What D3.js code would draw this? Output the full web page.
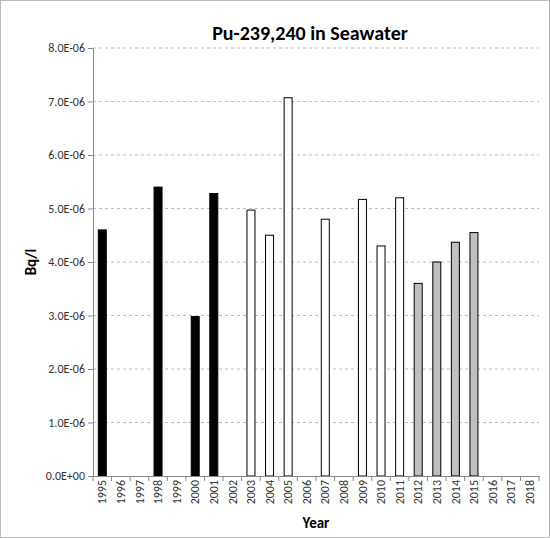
<!DOCTYPE html>
<html>
<head>
<meta charset="UTF-8">
<script src="https://d3js.org/d3.v7.min.js"></script>
<style>body{margin:0;background:#fff}text{font-family:Calibri,Carlito,Lato,sans-serif}</style>
</head>
<body>
<svg width="550" height="538"></svg>
<script>
var years = ["1995","1996","1997","1998","1999","2000","2001","2002","2003","2004","2005","2006","2007","2008","2009","2010","2011","2012","2013","2014","2015","2016","2017","2018"];
var values = [4.6e-6,null,null,5.4e-6,null,2.98e-6,5.28e-6,null,4.97e-6,4.5e-6,7.07e-6,null,4.8e-6,null,5.17e-6,4.3e-6,5.2e-6,3.6e-6,4.0e-6,4.37e-6,4.55e-6,null,null,null];
var fills = ["#000","#000","#000","#000","#000","#000","#000","#000","#fff","#fff","#fff","#fff","#fff","#fff","#fff","#fff","#fff","#bfbfbf","#bfbfbf","#bfbfbf","#bfbfbf","#bfbfbf","#bfbfbf","#bfbfbf"];
var yTicks = [0,1e-6,2e-6,3e-6,4e-6,5e-6,6e-6,7e-6,8e-6];

var svg = d3.select("svg");
svg.append("rect").attr("x",0.5).attr("y",0.5).attr("width",549).attr("height",537)
    .attr("fill","#fff").attr("stroke","#bbb");

var x = d3.scaleBand().domain(years).range([93,539]);
var y = d3.scaleLinear().domain([0,8e-6]).range([476,48]);

svg.append("g").selectAll("line").data(yTicks.slice(1)).enter().append("line")
    .attr("x1",93).attr("x2",539).attr("y1",d=>y(d)).attr("y2",d=>y(d))
    .attr("stroke","#bbb").attr("stroke-dasharray","3,3");

var data = years.map((d,i)=>({year:d,v:values[i],f:fills[i]})).filter(d=>d.v!=null);
svg.append("g").selectAll("rect").data(data).enter().append("rect")
    .attr("x",d=>x(d.year)+x.bandwidth()/2-4).attr("width",8)
    .attr("y",d=>y(d.v)).attr("height",d=>476-y(d.v))
    .attr("fill",d=>d.f).attr("stroke","#000").attr("stroke-width",1);

var fmt = d => d===0 ? "0.0E+00" : (d/1e-6).toFixed(1)+"E-06";
var ya = svg.append("g").attr("transform","translate(93,0)")
    .call(d3.axisLeft(y).tickValues(yTicks).tickFormat(fmt).tickSize(5));
ya.select(".domain").attr("stroke","#888");
ya.selectAll(".tick line").attr("stroke","#888");
ya.selectAll("text").attr("font-size",12).attr("fill","#333");

var xa = svg.append("g").attr("transform","translate(0,476)")
    .call(d3.axisBottom(x).tickSize(0));
xa.select(".domain").attr("stroke","#888");
xa.selectAll(".tick text").attr("font-size",12).attr("fill","#333")
    .attr("transform","rotate(-90)").attr("text-anchor","end").attr("dx","-4").attr("dy","0.35em").attr("x",0).attr("y",0);
xa.selectAll(".tick").each(function(d){
    d3.select(this).append("line").attr("x1",x.bandwidth()/2).attr("x2",x.bandwidth()/2).attr("y1",0).attr("y2",5).attr("stroke","#888");
});
xa.append("line").attr("x1",93).attr("x2",93).attr("y1",0).attr("y2",5).attr("stroke","#888");

svg.append("text").attr("x",310).attr("y",40).attr("text-anchor","middle")
    .attr("font-size",20).attr("font-weight","bold").text("Pu-239,240 in Seawater");
svg.append("text").attr("x",316).attr("y",528).attr("text-anchor","middle")
    .attr("font-size",15).attr("font-weight","bold").text("Year");
svg.append("text").attr("transform","translate(36,262) rotate(-90)").attr("text-anchor","middle")
    .attr("font-size",15).attr("font-weight","bold").text("Bq/l");
</script>
</body>
</html>
